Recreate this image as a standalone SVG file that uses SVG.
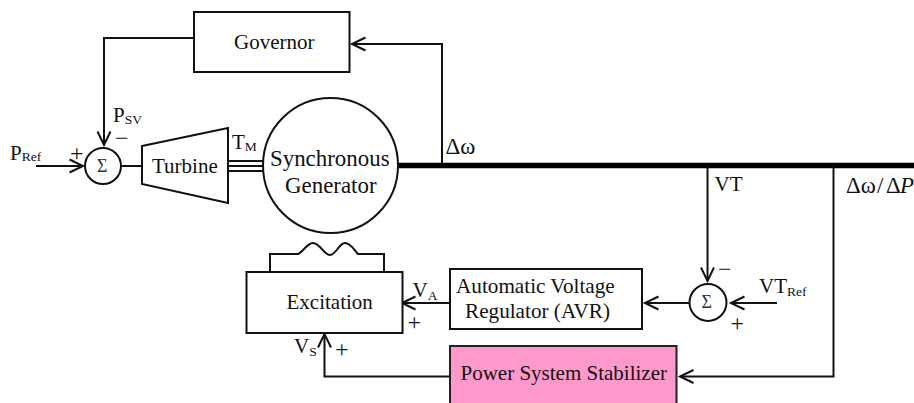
<svg xmlns="http://www.w3.org/2000/svg" width="914" height="403" viewBox="0 0 914 403">
<style>
text{font-family:"Liberation Serif","Times New Roman",serif;font-size:21px;fill:#111}
.m{font-size:21.200px}
.h{font-size:22.900px}
.s{font-size:13.500px}
.g{font-size:18px;fill:#333}
.n{font-size:24px}
.b{fill:#fff;stroke:#111;stroke-width:2}
.l{fill:none;stroke:#111;stroke-width:2}
</style>
<defs>
<marker id="arr" markerUnits="userSpaceOnUse" markerWidth="18" markerHeight="18" viewBox="-15 -9 18 18" refX="0" refY="0" orient="auto"><path d="M-13.500-6.500L0 0L-13.500 6.500" fill="none" stroke="#111" stroke-width="2"/></marker>
</defs>
<g id="connectors">
<path class="l" marker-end="url(#arr)" d="M194 38H104V145"/>
<path class="l" marker-end="url(#arr)" d="M442 165V44H352"/>
<path class="l" marker-end="url(#arr)" d="M36 166H83"/>
<path class="l" d="M121 166H142"/>
<path class="l" d="M228 161H263M228 166H263M228 171H263"/>
<path d="M398 165.500H914" fill="none" stroke="#000" stroke-width="5.500"/>
<path class="l" marker-end="url(#arr)" d="M707.500 165V281"/>
<path class="l" marker-end="url(#arr)" d="M777 303H731"/>
<path class="l" marker-end="url(#arr)" d="M689 303H645"/>
<path class="l" marker-end="url(#arr)" d="M450 303H402"/>
<path class="l" marker-end="url(#arr)" d="M833.500 165V376.500H680"/>
<path class="l" marker-end="url(#arr)" d="M450 376.500H324.500V334"/>
</g>
<g id="governor"><rect class="b" x="194" y="12" width="155.500" height="60"/><text x="234" y="49">Governor</text></g>
<g id="sum1"><circle class="b" cx="103" cy="166" r="18"/><text class="g" x="97" y="172">Σ</text></g>
<g id="turbine"><path class="b" d="M142 146L228 128V203L142 184Z"/><text x="152" y="173">Turbine</text></g>
<g id="generator"><circle class="b" cx="330.500" cy="165.500" r="67.500"/><text class="h" x="270" y="166">Synchronous</text><text class="h" x="285" y="193">Generator</text></g>
<g id="excitation"><rect class="b" x="246.500" y="272" width="156" height="61"/><path class="l" d="M270 272V254H298C303 252 307 243 313 243C320 243 324 255 330 255C336 255 339 243 345 243C351 243 354 250 358 254H384V272"/><text x="286.500" y="309">Excitation</text></g>
<g id="avr"><rect class="b" x="450" y="269" width="192" height="60"/><text class="m" x="456" y="293">Automatic Voltage</text><text class="m" x="465" y="318">Regulator (AVR)</text></g>
<g id="pss"><path d="M450 403V346H676.500V403" fill="#ff99cc" stroke="#222" stroke-width="2"/><text x="460.500" y="380">Power System Stabilizer</text></g>
<g id="sum2"><circle class="b" cx="708" cy="302.500" r="18.500"/><text class="g" x="701.500" y="308">Σ</text></g>
<g id="labels">
<text x="10" y="160">P<tspan class="s" dy="1">Ref</tspan></text>
<text x="113" y="122">P<tspan class="s" dy="2">SV</tspan></text>
<text x="232" y="149">T<tspan class="s" dy="2">M</tspan></text>
<text class="h" x="445.500" y="154">Δω</text>
<text x="714.500" y="191">VT</text>
<text class="h" y="193"><tspan x="846">Δω</tspan><tspan x="877">/</tspan><tspan x="886">Δ</tspan><tspan x="900" font-style="italic">P</tspan></text>
<text x="759" y="293">VT<tspan class="s" dy="3">Ref</tspan></text>
<text x="412.500" y="297">V<tspan class="s" dy="3">A</tspan></text>
<text x="294" y="353">V<tspan class="s" dy="3">S</tspan></text>
<text class="n" x="70" y="161">+</text>
<text class="n" x="407.500" y="330">+</text>
<text class="n" x="335" y="357">+</text>
<text class="n" x="730.500" y="331">+</text>
<text class="n" x="115" y="146">−</text>
<text class="n" x="718" y="277">−</text>
</g>
</svg>
